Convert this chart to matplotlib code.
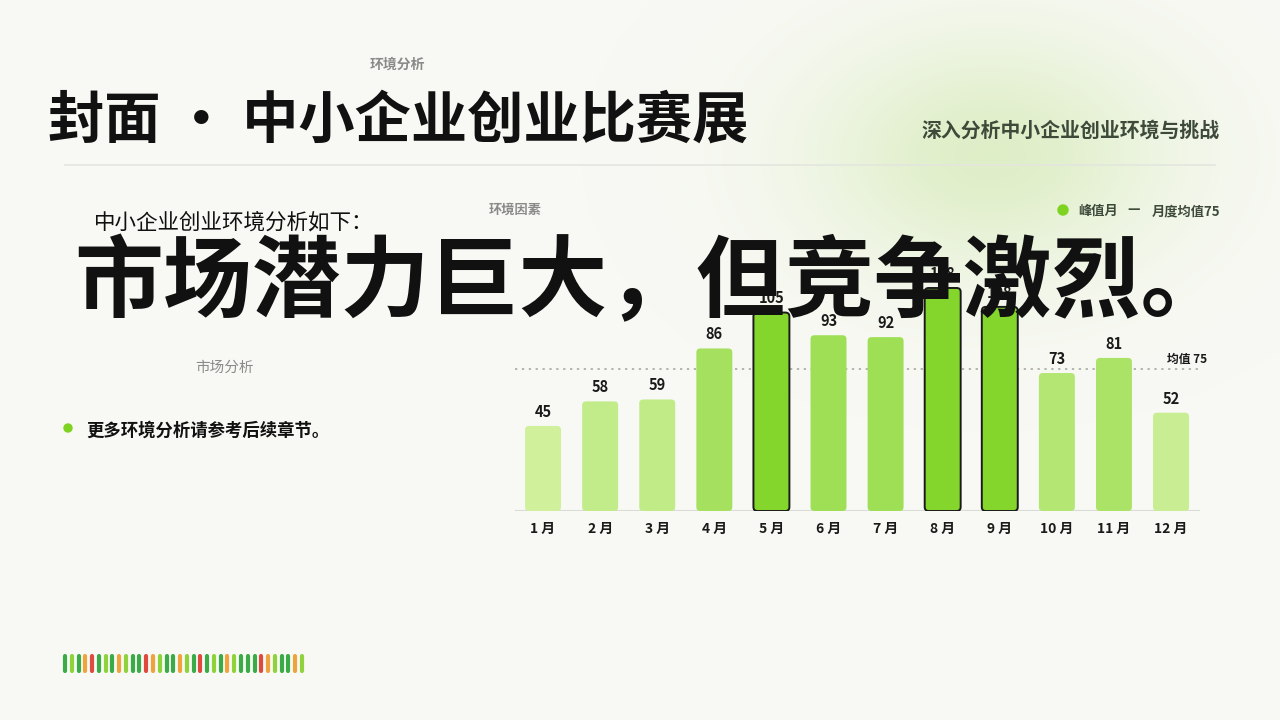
import numpy as np
import matplotlib
matplotlib.use("Agg")
import matplotlib.pyplot as plt
from matplotlib.patches import FancyBboxPatch, Circle
from matplotlib.colors import to_rgb

plt.rcParams['font.family'] = ['Noto Sans CJK SC', 'DejaVu Sans']

# ---------------- data ----------------
months = ["1 月", "2 月", "3 月", "4 月", "5 月", "6 月", "7 月", "8 月", "9 月", "10 月", "11 月", "12 月"]
values = [45, 58, 59, 86, 105, 93, 92, 118, 108, 73, 81, 52]
peak_months = ["5 月", "8 月", "9 月"]
mean_value = 75

title = "封面 · 中小企业创业比赛展"
kicker = "环境分析"
subtitle = "深入分析中小企业创业环境与挑战"
intro = "中小企业创业环境分析如下："
headline = "市场潜力巨大，但竞争激烈。"
chart_kicker = "环境因素"
side_label = "市场分析"
bullet_text = "更多环境分析请参考后续章节。"
legend_peak = "峰值月"
legend_mean = "月度均值75"
mean_label = "均值 75"

stripe_colors = ["dg", "lg", "dg", "o", "r", "dg", "lg", "dg", "o", "lg", "dg", "dg",
                 "r", "o", "lg", "dg", "dg", "o", "lg", "dg", "r", "dg", "lg", "dg",
                 "o", "lg", "dg", "dg", "dg", "r", "o", "lg", "dg", "dg", "o", "lg"]

# ---------------- style ----------------
W, H = 1280, 720
BG = "#f8f9f4"
PEAK = "#84d62c"
LIGHT = "#d0f09c"
palette = {"dg": "#3bab47", "lg": "#8fd23c", "o": "#eea33c", "r": "#df4a3e"}

fig = plt.figure(figsize=(12.8, 7.2), dpi=100, facecolor=BG)

# background layer in pixel coords
bg = fig.add_axes([0, 0, 1, 1], zorder=-10)
bg.set_xlim(0, W)
bg.set_ylim(H, 0)
bg.axis("off")
bg.set_facecolor(BG)

# soft green glow
yy, xx = np.mgrid[0:H, 0:W]
d2 = ((xx - 990) / 215.0) ** 2 + ((yy - 155) / 145.0) ** 2
alpha = 0.9 * np.exp(-1.5 * d2)
glow = np.zeros((H, W, 4))
glow[..., :3] = to_rgb("#dcedc2")
glow[..., 3] = alpha
bg.imshow(glow, extent=(0, W, H, 0), interpolation="bilinear", zorder=0)

# separator line
bg.plot([65, 1215], [165, 165], color="#e3e6de", lw=1.2, zorder=1)

# stripes
for i, c in enumerate(stripe_colors):
    x = 65 + i * 6.77
    bg.plot([x, x], [655.5, 671], color=palette[c], lw=3.0, solid_capstyle="round", zorder=2)

# bullet & legend dots
bg.add_patch(Circle((68, 428), 4, color="#7ed321", zorder=2))
bg.add_patch(Circle((1063, 210), 5, color="#7ed321", zorder=2))

def ptext(x, y, s, **kw):
    return fig.text(x / W, 1 - y / H, s, **kw)

ptext(397, 65, kicker, fontsize=10, color="#8a8a8a", ha="center", va="center", fontweight="bold")
ptext(48, 121, title, fontsize=40.5, color="#111111", ha="left", va="center", fontweight="bold")
ptext(1220, 130, subtitle, fontsize=14.3, color="#3d4a3a", ha="right", va="center", fontweight="bold")
ptext(515, 210, chart_kicker, fontsize=9.5, color="#8a8a8a", ha="center", va="center", fontweight="bold")
ptext(1078, 211, legend_peak, fontsize=9.5, color="#3d4a3a", ha="left", va="center", fontweight="bold")
ptext(1134, 209, "—", fontsize=10, color="#3d4a3a", ha="center", va="center", fontweight="bold")
ptext(1152, 211, legend_mean, fontsize=9.5, color="#3d4a3a", ha="left", va="center", fontweight="bold")
ptext(94, 222, intro, fontsize=15.5, color="#111111", ha="left", va="center")
ptext(74, 284, headline, fontsize=64, color="#111111", ha="left", va="center", fontweight="bold", zorder=20)
ptext(225, 368, side_label, fontsize=10.5, color="#8a8a8a", ha="center", va="center")
ptext(86, 431, bullet_text, fontsize=12.5, color="#111111", ha="left", va="center", fontweight="bold")

# ---------------- chart ----------------
base_px = 511
px_per_unit = 1.89
ymax = 130
left_px, right_px = 514.5, 1199.6
ax = fig.add_axes([left_px / W, 1 - base_px / H, (right_px - left_px) / W, ymax * px_per_unit / H], zorder=1)
ax.set_facecolor("none")
ax.set_xlim(-0.5, len(values) - 0.5)
ax.set_ylim(0, ymax)
for s in ax.spines.values():
    s.set_visible(False)
ax.set_yticks([])
ax.set_xticks(range(len(months)))
ax.set_xticklabels(months, fontsize=10, fontweight="bold", color="#1a1a1a")
ax.tick_params(axis="x", length=0, pad=8)

vmin = min(values)
c_light = np.array(to_rgb(LIGHT))
c_peak = np.array(to_rgb(PEAK))
c_mid = np.array(to_rgb("#9cde52"))

bw = 0.63
x_unit_px = (right_px - left_px) / len(values)
mut = (x_unit_px / px_per_unit)
for i, (m, v) in enumerate(zip(months, values)):
    if m in peak_months:
        fc, ec, lw = c_peak, "#1a1a1a", 1.4
    else:
        t = (v - vmin) / (95 - vmin)
        fc = c_light + (c_mid - c_light) * min(max(t, 0), 1)
        ec, lw = "none", 0
    r = 4.0 / x_unit_px
    p = FancyBboxPatch((i - bw / 2, 0), bw, v,
                       boxstyle=f"round,pad=0,rounding_size={r}",
                       mutation_aspect=mut, facecolor=fc, edgecolor=ec, linewidth=lw, zorder=3)
    ax.add_patch(p)
    ax.text(i, v + 7.5, str(v), ha="center", va="center", fontsize=10.5, fontweight="bold",
            color="#1a1a1a", zorder=4)

ax.axhline(0, color="#d9dcd5", lw=1.5, zorder=2)
ax.axhline(mean_value, color="#a0a39c", lw=1.1, ls=(0, (1.5, 3)), zorder=2)
ax.text(len(values) - 0.5 + 0.13, mean_value + 5.5, mean_label, ha="right", va="center",
        fontsize=8.5, fontweight="bold", color="#1a1a1a", zorder=4)

fig.savefig("out.png", dpi=100, facecolor=BG)
